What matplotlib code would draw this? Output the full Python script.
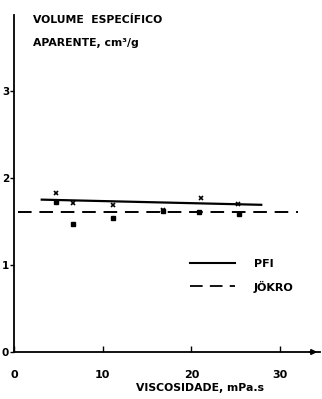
import matplotlib
matplotlib.use("Agg")
import matplotlib.pyplot as plt

# Data
line_x_pfi = [3.0, 28.0]
line_y_pfi = [1.75, 1.69]
line_x_jok = [0.5, 32.0]
line_y_jok = [1.61, 1.61]

pfi_x = [4.7, 6.6, 11.2, 16.8, 21.1, 25.3]
pfi_y = [1.83, 1.71, 1.69, 1.63, 1.77, 1.70]
jok_x = [4.7, 6.6, 11.2, 16.8, 20.9, 25.4]
jok_y = [1.72, 1.47, 1.54, 1.62, 1.61, 1.59]

xticks = [0, 10, 20, 30]
yticks = [0, 1, 2, 3]

fig = plt.figure(figsize=(3.22, 3.99), dpi=100)
ax = fig.add_axes([14/322, 47/399, 306/322, 337/399])
ax.set_xlim(0, 34.5)
ax.set_ylim(0, 3.87)

ax.plot(line_x_pfi, line_y_pfi, color="black", lw=1.6, solid_capstyle="butt")
ax.plot(line_x_jok, line_y_jok, color="black", lw=1.4, dashes=(7, 4))
ax.plot(pfi_x, pfi_y, linestyle="none", marker="x", color="black", ms=3.5, mew=1.2)
ax.plot(jok_x, jok_y, linestyle="none", marker="s", color="black", ms=3.5)

for s in ["top", "right"]:
    ax.spines[s].set_visible(False)
for s in ["left", "bottom"]:
    ax.spines[s].set_linewidth(1.3)

ax.set_xticks(xticks)
ax.set_yticks(yticks)
ax.tick_params(axis="x", direction="in", length=4, width=1, pad=13, labelsize=8)
ax.tick_params(axis="y", direction="out", length=3, width=1, pad=0.5, labelsize=7.5)
for lab in ax.get_xticklabels() + ax.get_yticklabels():
    lab.set_fontweight("bold")

ax.annotate("", xy=(34.5, 0), xytext=(33.0, 0),
            arrowprops=dict(arrowstyle="-|>", color="black", lw=1.2, mutation_scale=8),
            annotation_clip=False)

ax.text(33/322, 1 - 20/399, "VOLUME  ESPECÍFICO", transform=fig.transFigure,
        fontsize=7.8, fontweight="bold", va="center", ha="left")
ax.text(33/322, 1 - 43/399, "APARENTE, cm³/g", transform=fig.transFigure,
        fontsize=7.8, fontweight="bold", va="center", ha="left")
ax.text(200/322, 1 - 388/399, "VISCOSIDADE, mPa.s", transform=fig.transFigure,
        fontsize=7.8, fontweight="bold", va="center", ha="center")

# legend drawn manually in figure coordinates
fig.lines.append(plt.Line2D([190/322, 235/322], [1 - 263/399, 1 - 263/399],
                            transform=fig.transFigure, color="black", lw=1.5))
fig.lines.append(plt.Line2D([190/322, 235/322], [1 - 286/399, 1 - 286/399],
                            transform=fig.transFigure, color="black", lw=1.3, dashes=(7, 4)))
fig.text(254/322, 1 - 264/399, "PFI", fontsize=8, fontweight="bold", va="center")
fig.text(254/322, 1 - 287/399, "JÖKRO", fontsize=8, fontweight="bold", va="center")

fig.savefig("out.png", dpi=100)
